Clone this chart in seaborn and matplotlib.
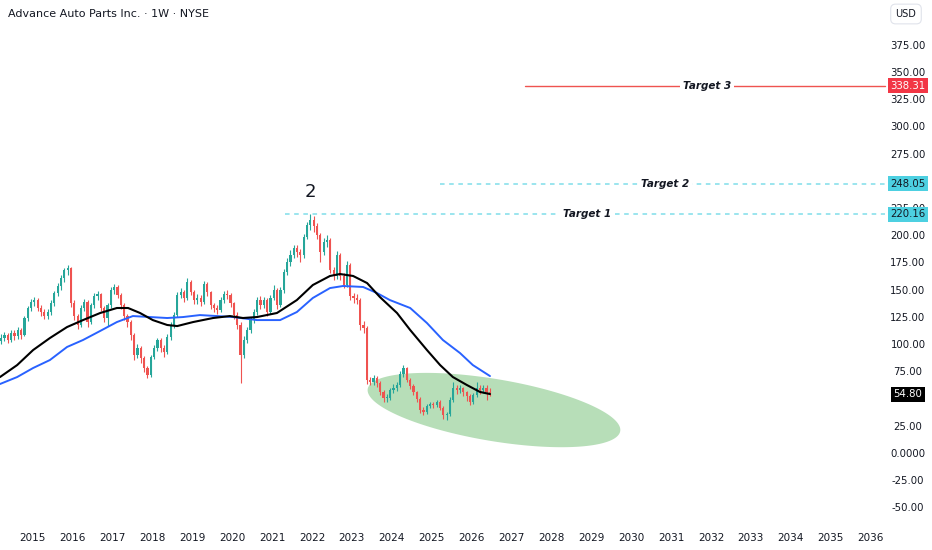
import numpy as np
import pandas as pd
import seaborn as sns
import matplotlib.pyplot as plt

# monthly candles (USD)
months = pd.period_range("2014-03", "2026-06", freq="M")
close = [106.5, 109.3, 104.7, 111.1, 108.4, 113.9, 109.3, 124.9, 134.1, 139.6,
         141.4, 134.1, 130.4, 126.7, 130.4, 138.7, 147.8, 154.3, 161.6, 169.0,
         170.9, 138.7, 126.7, 118.5, 134.1, 139.6, 121.2, 136.8, 145.1, 146.9,
         134.1, 124.9, 136.8, 150.6, 153.4, 146.0, 136.8, 126.7, 121.2, 109.3,
         90.9, 97.3, 88.2, 79.0, 72.5, 89.1, 97.3, 104.7, 97.3, 93.7,
         107.4, 118.5, 127.6, 146.0, 148.8, 143.3, 157.9, 148.8, 141.4, 143.3,
         139.6, 156.1, 148.8, 136.8, 134.1, 132.2, 141.4, 146.9, 146.0, 138.7,
         127.6, 118.5, 90.9, 104.7, 113.9, 123.0, 130.4, 141.4, 136.8, 141.4,
         130.4, 143.3, 150.6, 136.8, 150.6, 167.1, 176.3, 182.7, 189.2, 185.5,
         182.7, 199.3, 210.3, 214.9, 209.4, 201.1, 185.5, 194.7, 196.5, 169.0,
         163.5, 182.7, 163.5, 155.2, 173.6, 145.1, 143.3, 141.4, 118.5, 115.7,
         68.0, 66.1, 69.8, 65.2, 56.9, 51.4, 51.4, 58.8, 60.6, 63.4,
         73.5, 79.0, 68.0, 62.4, 56.9, 50.5, 40.4, 38.6, 44.1, 45.9,
         45.0, 47.8, 42.2, 35.8, 36.7, 49.6, 60.6, 58.8, 60.6, 56.9,
         53.3, 47.8, 54.2, 60.6, 58.8, 60.6, 56.9, 54.8]
high = [110, 112, 111, 114, 114, 117, 116, 127, 136, 142,
        144, 143, 137, 133, 133, 141, 150, 157, 164, 171,
        174, 172, 141, 129, 137, 142, 141, 139, 148, 150,
        148, 136, 139, 153, 156, 155, 148, 139, 129, 123,
        111, 101, 99, 90, 81, 91, 100, 107, 107, 100,
        110, 121, 130, 149, 152, 151, 162, 160, 151, 147,
        146, 159, 158, 150, 139, 137, 144, 150, 151, 148,
        140, 130, 121, 108, 117, 126, 133, 144, 145, 144,
        143, 146, 155, 152, 153, 170, 180, 187, 192, 192,
        188, 202, 213, 220, 219, 212, 203, 198, 201, 198,
        172, 186, 185, 166, 177, 175, 148, 147, 143, 122,
        118, 71, 73, 72, 67, 59, 55, 61, 64, 66,
        76, 82, 80, 70, 64, 58, 52, 43, 46, 48,
        48, 50, 50, 44, 39, 52, 66, 63, 63, 62,
        58, 55, 56, 66, 63, 63, 63, 61]
low = [101, 104, 102, 103, 105, 106, 106, 108, 122, 131,
       136, 131, 127, 124, 124, 128, 136, 145, 151, 158,
       164, 135, 123, 115, 117, 131, 117, 119, 134, 141,
       131, 121, 118, 134, 147, 143, 133, 123, 117, 105,
       86, 88, 84, 75, 70, 71, 87, 95, 94, 89,
       92, 105, 116, 126, 143, 140, 141, 146, 138, 138,
       136, 138, 145, 133, 130, 129, 130, 139, 142, 135,
       124, 115, 65, 88, 102, 111, 120, 128, 133, 134,
       127, 129, 141, 133, 135, 148, 164, 173, 180, 181,
       176, 180, 197, 206, 204, 197, 176, 183, 190, 166,
       160, 161, 160, 152, 153, 141, 139, 138, 114, 111,
       64, 63, 63, 62, 54, 48, 48, 50, 56, 58,
       62, 71, 66, 60, 54, 48, 38, 36, 37, 42,
       42, 43, 40, 32, 31, 35, 48, 55, 56, 53,
       49, 45, 46, 52, 55, 56, 50, 53]
first_open = 104.0

# moving averages (black = fast, blue = slow), sampled along the curves
ma_fast_t = [2014.18, 2014.61, 2015.01, 2015.43, 2015.86, 2016.26, 2016.69, 2017.11,
             2017.39, 2017.69, 2018.01, 2018.37, 2018.62, 2019.02, 2019.52, 2019.94,
             2020.27, 2020.62, 2021.12, 2021.62, 2022.02, 2022.45, 2022.70, 2023.03,
             2023.38, 2023.70, 2024.13, 2024.46, 2024.88, 2025.21, 2025.53, 2025.88,
             2026.21, 2026.46]
ma_fast_v = [70.7, 81.7, 95.5, 106.5, 116.6, 123.0, 129.5, 134.1,
             134.1, 129.5, 123.0, 118.5, 117.5, 121.2, 124.9, 126.7,
             124.9, 125.8, 129.5, 141.4, 155.2, 163.5, 165.3, 163.5,
             157.0, 144.2, 129.5, 113.9, 95.5, 81.7, 70.7, 63.4,
             57.0, 55.1]
ma_slow_t = [2014.18, 2014.61, 2015.01, 2015.43, 2015.86, 2016.26, 2016.69, 2017.11,
             2017.51, 2017.94, 2018.37, 2018.77, 2019.19, 2019.62, 2020.02, 2020.62,
             2021.20, 2021.62, 2022.02, 2022.45, 2022.78, 2023.28, 2023.63, 2023.95,
             2024.46, 2024.88, 2025.28, 2025.71, 2026.03, 2026.46]
ma_slow_v = [64.3, 70.7, 79.0, 86.3, 98.3, 104.7, 113.0, 121.2,
             126.7, 125.8, 124.9, 125.8, 127.6, 126.7, 125.8, 123.0,
             123.0, 130.4, 143.3, 152.4, 154.3, 153.4, 147.8, 141.4,
             134.1, 120.3, 104.7, 92.7, 81.7, 71.6]

target_names = ["Target 1", "Target 2", "Target 3"]
target_values = [220.16, 248.05, 338.31]
target_from = [2021.32, 2025.21, 2027.34]
target_label_at = [2028.9, 2030.85, 2031.9]

years = list(range(2015, 2037))
price_ticks = [-50, -25, 0, 25, 75, 100, 125, 150, 175, 200, 225, 275, 300, 325, 350, 375]
last_price = 54.80

GREEN = "#26a69a"
RED = "#ef5350"
TEXT = "#131722"

sns.set_theme(style="white")
plt.rcParams["font.family"] = ["DejaVu Sans"]

W, H = 932, 550
fig = plt.figure(figsize=(W / 100, H / 100), dpi=100)
ax_w, ax_h = 885, 522
ax = fig.add_axes([0, (H - ax_h) / H, ax_w / W, ax_h / H])
x0, x1 = 2014.18, 2036.36
y0, y1 = -62.4, 416.9
ax.set_xlim(x0, x1)
ax.set_ylim(y0, y1)
for s in ax.spines.values():
    s.set_visible(False)

# candles
t = np.array(months.year) + (np.array(months.month) - 1) / 12 + 1 / 24
c = np.array(close)
o = np.r_[first_open, c[:-1]]
colors = np.where(c >= o, GREEN, RED)
ax.vlines(t, low, high, colors=colors, lw=0.8, zorder=3)
body = np.maximum(np.abs(c - o), 0.8)
ax.bar(t, body, bottom=np.minimum(o, c), width=0.055, color=colors, lw=0, zorder=3)

# moving averages
sns.lineplot(x=ma_slow_t, y=ma_slow_v, color="#2962ff", lw=1.4, ax=ax, zorder=4)
sns.lineplot(x=ma_fast_t, y=ma_fast_v, color="black", lw=1.5, ax=ax, zorder=4)

# green zone ellipse (drawn in pixel space, placed at a data centre)
xpp = (x1 - x0) / ax_w
ypp = (y1 - y0) / ax_h
cx, cy = 2026.56, 40.4
a, b, phi = 128, 31, np.radians(9.5)
th = np.linspace(0, 2 * np.pi, 200)
px = a * np.cos(th) * np.cos(phi) - b * np.sin(th) * np.sin(phi)
py = a * np.cos(th) * np.sin(phi) + b * np.sin(th) * np.cos(phi)
ax.fill(cx + px * xpp, cy - py * ypp, color="#a5d6a7", alpha=0.8, lw=0, zorder=1)

# target lines
for name, val, start, lab in zip(target_names, target_values, target_from, target_label_at):
    if name == "Target 3":
        ax.plot([start, x1], [val, val], color="#ef5350", lw=1.0, zorder=2, clip_on=False)
    else:
        ax.plot([start, x1], [val, val], color="#80deea", lw=1.1, ls=(0, (3, 3)), zorder=2)
    ax.text(lab, val, name, style="italic", weight="bold", fontsize=7.5, color=TEXT,
            ha="center", va="center", zorder=5,
            bbox=dict(fc="white", ec="none", pad=2))

ax.text(2021.95, 240.6, "2", fontsize=13, color=TEXT, ha="center", va="center")

# x axis years
ax.set_xticks(years)
ax.set_xticklabels([str(y) for y in years], fontsize=7.5, color=TEXT)
ax.tick_params(axis="x", length=0, pad=8)
ax.set_yticks([])

# price scale
lab_x = 908 / ax_w
for p in price_ticks:
    txt = "0.0000" if p == 0 else f"{p:.2f}"
    ax.text(lab_x, p, txt, transform=ax.get_yaxis_transform(), fontsize=7.3,
            color=TEXT, ha="center", va="center", clip_on=False, zorder=5)
boxes = [(338.31, "#f23645", "white"), (248.05, "#4dd0e1", TEXT),
         (220.16, "#4dd0e1", TEXT), (last_price, "black", "white")]
for val, fc, tc in boxes:
    ax.text(lab_x, val, f"{val:.2f}", transform=ax.get_yaxis_transform(), fontsize=7.3,
            color=tc, ha="center", va="center", clip_on=False, zorder=6,
            bbox=dict(boxstyle="square,pad=0.25", fc=fc, ec="none"))

fig.text(8 / W, 1 - 14 / H, "Advance Auto Parts Inc. · 1W · NYSE", fontsize=8,
         color=TEXT, va="center", ha="left")
fig.text(906 / W, 1 - 14 / H, "USD", fontsize=7, color=TEXT, va="center", ha="center",
         bbox=dict(boxstyle="round,pad=0.5", fc="white", ec="#e0e3eb", lw=0.8))

fig.savefig("out.png", dpi=100, facecolor="white")
